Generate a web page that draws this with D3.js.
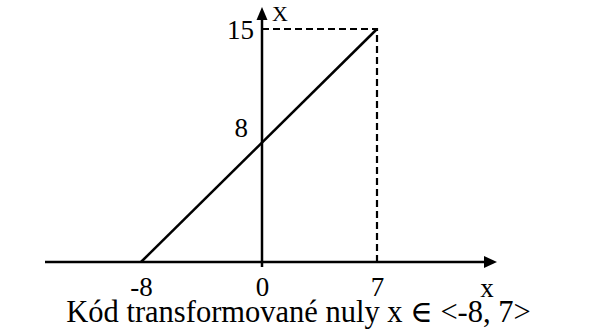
<!DOCTYPE html>
<html>
<head>
<meta charset="utf-8">
<script src="https://cdn.jsdelivr.net/npm/d3@7"></script>
<style>
  body { margin: 0; background: #fff; }
  svg text { font-family: "Liberation Serif", "DejaVu Serif", serif; fill: #000; }
</style>
</head>
<body>
<svg id="chart"></svg>
<script>
// data
var xTicks = [-8, 0, 7];
var yTicks = [8, 15];
var lineX = [-8, 7];
var lineY = [0, 15];
var xAxisName = 'x';
var yAxisName = 'X';
var caption = 'Kód transformované nuly x ∈ <-8, 7>';

var width = 596, height = 334;

var svg = d3.select('#chart')
  .attr('width', width)
  .attr('height', height);

// scales (x is slightly uneven in the original drawing)
var x = d3.scaleLinear()
  .domain([-8, 0, 7])
  .range([141, 262, 377]);

var y = d3.scaleLinear()
  .domain([0, 15])
  .range([262, 29]);

// dashed guides to the end point
var last = lineX.length - 1;
svg.append('path')
  .attr('d', 'M' + x(0) + ',' + y(lineY[last]) + 'H' + x(lineX[last]) + 'V' + y(0))
  .attr('fill', 'none')
  .attr('stroke', '#000')
  .attr('stroke-width', 2.2)
  .attr('stroke-dasharray', '7,4');

// axis lines
var x0 = x(0), y0 = y(0);
svg.append('line')
  .attr('x1', 45).attr('y1', y0)
  .attr('x2', 486).attr('y2', y0)
  .attr('stroke', '#000')
  .attr('stroke-width', 2.5);

svg.append('line')
  .attr('x1', x0).attr('y1', y0 + 5)
  .attr('x2', x0).attr('y2', 18)
  .attr('stroke', '#000')
  .attr('stroke-width', 2.5);

// arrow heads
svg.append('path')
  .attr('d', 'M497,' + y0 + 'L484,' + (y0 - 6) + 'L484,' + (y0 + 6) + 'Z')
  .attr('fill', '#000');
svg.append('path')
  .attr('d', 'M' + x0 + ',7L' + (x0 - 5.5) + ',20L' + (x0 + 5.5) + ',20Z')
  .attr('fill', '#000');

// the line
var pts = lineX.map(function(d, i) { return { x: d, y: lineY[i] }; });
var line = d3.line()
  .x(function(d) { return x(d.x); })
  .y(function(d) { return y(d.y); });

svg.append('path')
  .datum(pts)
  .attr('d', line)
  .attr('fill', 'none')
  .attr('stroke', '#000')
  .attr('stroke-width', 2.5);

// tick labels
var xAxis = svg.append('g')
  .attr('transform', 'translate(0,' + y0 + ')')
  .call(d3.axisBottom(x).tickValues(xTicks).tickSize(0).tickFormat(function(d) { return String(d); }));
xAxis.select('.domain').remove();
xAxis.selectAll('text')
  .attr('y', 34)
  .attr('dy', 0)
  .attr('font-size', 27)
  .style('font-family', '"Liberation Serif", serif');

var yAxis = svg.append('g')
  .attr('transform', 'translate(' + x0 + ',0)')
  .call(d3.axisLeft(y).tickValues(yTicks).tickSize(0).tickFormat(function(d) { return String(d); }));
yAxis.select('.domain').remove();
yAxis.selectAll('text')
  .attr('x', function(d) { return d === 8 ? -14 : -8; })
  .attr('dy', function(d) { return d === 8 ? '-0.05em' : '0.34em'; })
  .attr('font-size', 27)
  .style('font-family', '"Liberation Serif", serif');

// axis names
svg.append('text')
  .attr('x', 487).attr('y', 297)
  .attr('text-anchor', 'middle')
  .attr('font-size', 27)
  .text(xAxisName);

svg.append('text')
  .attr('x', 280).attr('y', 21)
  .attr('text-anchor', 'middle')
  .attr('font-size', 22)
  .text(yAxisName);

// caption
svg.append('text')
  .attr('x', 298.5).attr('y', 322)
  .attr('text-anchor', 'middle')
  .attr('font-size', 30.5)
  .text(caption);
</script>
</body>
</html>
